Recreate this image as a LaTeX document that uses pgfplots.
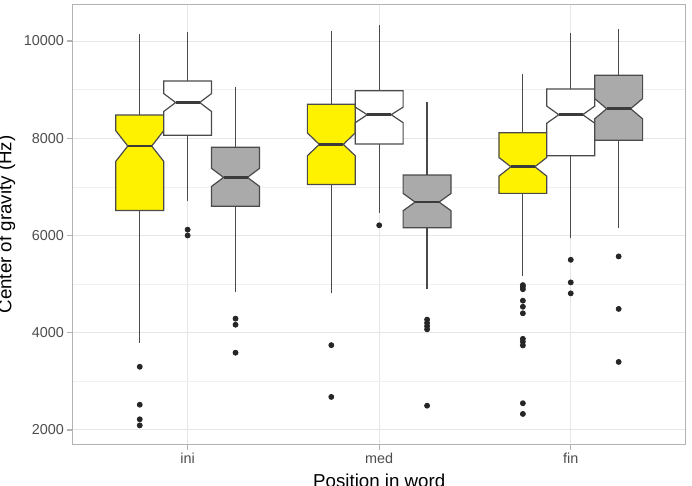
\documentclass[border=0pt]{standalone}
\usepackage{fontspec}
\setmainfont{Liberation Sans}
\usepackage{pgfplots}
\pgfplotsset{compat=1.18}
\definecolor{outl}{HTML}{4A4A4A}
\definecolor{gridc}{HTML}{E6E6E6}
\definecolor{gridm}{HTML}{F0F0F0}
\definecolor{bord}{HTML}{B3B3B3}
\definecolor{tlab}{HTML}{4D4D4D}
\definecolor{boxgrey}{HTML}{AAAAAA}
\pgfplotsset{
  boxline/.style={color=outl, line width=0.6pt, line join=miter},
  medline/.style={color=outl!80!black, line width=1.3pt},
  outl pts/.style={only marks, mark=*, mark size=1.25pt, color=black!85},
}
% #1 x, #2 fill, #3 lower whisker, #4 Q1, #5 notch low, #6 median, #7 notch high, #8 Q3, #9 upper whisker
\newcommand{\nbox}[9]{%
  \pgfmathsetmacro\xl{#1-0.125}\pgfmathsetmacro\xr{#1+0.125}%
  \pgfmathsetmacro\nxl{#1-0.0625}\pgfmathsetmacro\nxr{#1+0.0625}%
  \edef\tmp{%
    \noexpand\addplot[boxline] coordinates {(#1,#3) (#1,#4)};
    \noexpand\addplot[boxline] coordinates {(#1,#8) (#1,#9)};
    \noexpand\addplot[boxline, fill=#2] coordinates {(\xl,#4) (\xr,#4) (\xr,#5) (\nxr,#6) (\xr,#7) (\xr,#8) (\xl,#8) (\xl,#7) (\nxl,#6) (\xl,#5)} -- cycle;
    \noexpand\addplot[medline] coordinates {(\nxl,#6) (\nxr,#6)};
  }\tmp}
\begin{document}
\begin{tikzpicture}
\begin{axis}[
  at={(36.35pt,20.85pt)}, anchor=south west,
  scale only axis, width=306.5pt, height=219.8pt,
  xmin=0.4, xmax=3.6, ymin=1706, ymax=10747,
  xtick={1,2,3}, xticklabels={ini,med,fin},
  ytick={2000,4000,6000,8000,10000},
  minor ytick={3000,5000,7000,9000},
  scaled y ticks=false,
  grid=both,
  major grid style={color=gridc, line width=0.5pt},
  minor grid style={color=gridm, line width=0.35pt},
  axis line style={color=bord, line width=0.7pt},
  tick style={color=bord, line width=0.6pt},
  tick align=outside, tick pos=left,
  major tick length=2.75pt, minor tick length=0pt,
  /pgf/number format/assume math mode=true,
  /pgf/number format/1000 sep={},
  ticklabel style={font=\fontsize{7.2}{8}\selectfont, text=tlab},
  yticklabel style={inner sep=1.5pt},
  xticklabel style={inner sep=1.5pt},
  xlabel={Position in word},
  ylabel={Center of gravity (Hz)},
  label style={font=\fontsize{9.35}{11}\selectfont, text=black},
  xlabel style={at={(axis description cs:0.5,-0.099)}, anchor=base},
  ylabel style={at={(axis description cs:-0.1,0.5)}, anchor=base},
]
% ini
\addplot[outl pts] coordinates {(0.75,3300) (0.75,2520) (0.75,2220) (0.75,2095)};
\nbox{0.75}{yellow}{3790}{6516}{7525}{7840}{8155}{8477}{10144}
\addplot[outl pts] coordinates {(1,6120) (1,6000)};
\nbox{1}{white}{6700}{8060}{8550}{8735}{8920}{9177}{10178}
\addplot[outl pts] coordinates {(1.25,4290) (1.25,4165) (1.25,3590)};
\nbox{1.25}{boxgrey}{4830}{6600}{7010}{7195}{7380}{7813}{9047}
% med
\addplot[outl pts] coordinates {(1.75,3745) (1.75,2680)};
\nbox{1.75}{yellow}{4810}{7050}{7640}{7874}{8110}{8698}{10212}
\addplot[outl pts] coordinates {(2,6210)};
\nbox{2}{white}{6470}{7881}{8320}{8484}{8640}{8978}{10335}
\addplot[outl pts] coordinates {(2.25,4270) (2.25,4200) (2.25,4135) (2.25,4070) (2.25,2500)};
\nbox{2.25}{boxgrey}{4900}{6158}{6510}{6687}{6865}{7243}{8739}
% fin
\addplot[outl pts] coordinates {(2.75,4980) (2.75,4945) (2.75,4895) (2.75,4660) (2.75,4535) (2.75,4400) (2.75,3875) (2.75,3815) (2.75,3740) (2.75,2550) (2.75,2330)};
\nbox{2.75}{yellow}{5165}{6866}{7220}{7414}{7605}{8113}{9321}
\addplot[outl pts] coordinates {(3,5500) (3,5035) (3,4810)};
\nbox{3}{white}{5947}{7640}{8310}{8484}{8660}{9012}{10165}
\addplot[outl pts] coordinates {(3.25,5570) (3.25,4490) (3.25,3400)};
\nbox{3.25}{boxgrey}{6152}{7957}{8400}{8607}{8815}{9294}{10240}
\end{axis}
\pgfresetboundingbox
\useasboundingbox (0,0) rectangle (346pt,243pt);
\end{tikzpicture}
\end{document}
